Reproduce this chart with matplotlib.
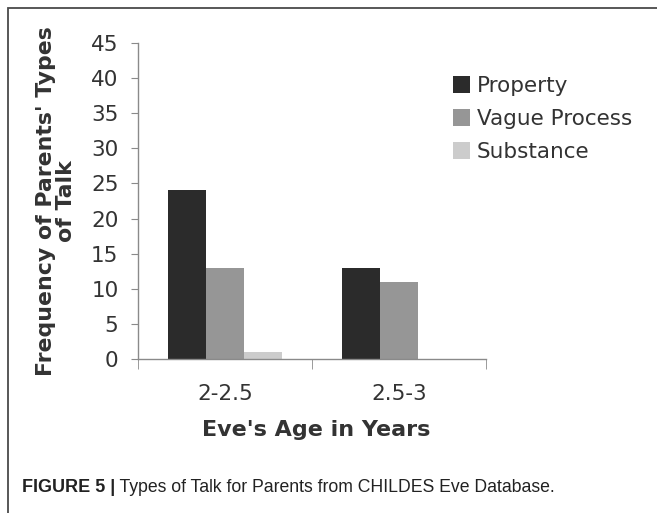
import matplotlib.pyplot as plt
import numpy as np
from matplotlib.patches import Rectangle

ages = ['2-2.5', '2.5-3']
property_talk = [24, 13]
vague_process = [13, 11]
substance = [1, 0]
series_names = ['Property', 'Vague Process', 'Substance']
colors = ['#2b2b2b', '#969696', '#cccccc']
yticks = [0, 5, 10, 15, 20, 25, 30, 35, 40, 45]

W, H = 657, 513
fig = plt.figure(figsize=(W / 100, H / 100), dpi=100)
ax = fig.add_axes([138 / W, 1 - 359 / H, 348 / W, 316 / H])

txt = '#333333'
axcol = '#8a8a8a'

x = np.arange(len(ages))
width = 0.22
for i, (vals, name, c) in enumerate(zip([property_talk, vague_process, substance], series_names, colors)):
    ax.bar(x + (i - 1) * width, vals, width, color=c, label=name, linewidth=0)

ax.set_xlim(-0.5, 1.5)
ax.set_ylim(0, 45)
ax.set_yticks(yticks)
ax.set_xticks(x)
ax.set_xticklabels(ages)
ax.set_xticks([-0.5, 0.5, 1.5], minor=True)

for s in ['top', 'right']:
    ax.spines[s].set_visible(False)
for s in ['left', 'bottom']:
    ax.spines[s].set_color(axcol)
    ax.spines[s].set_linewidth(1.0)

ax.tick_params(axis='y', which='major', direction='out', length=5, color=axcol,
               labelsize=15.5, labelcolor=txt, pad=9)
ax.tick_params(axis='x', which='major', length=0, labelsize=15.5, labelcolor=txt, pad=18)
ax.tick_params(axis='x', which='minor', direction='out', length=7, color=axcol)

fig.text(56 / W, 1 - 201 / H, "Frequency of Parents' Types\nof Talk", rotation=90,
         ha='center', va='center', multialignment='center', fontsize=15.8,
         fontweight='bold', color=txt, linespacing=1.05)
fig.text(316 / W, 1 - 430 / H, "Eve's Age in Years", ha='center', va='center',
         fontsize=16, fontweight='bold', color=txt)

leg = ax.legend(loc='upper left', bbox_to_anchor=(453 / W, 1 - 76 / H),
                bbox_transform=fig.transFigure, frameon=False, fontsize=15.5,
                handlelength=0.79, handleheight=0.79, handletextpad=0.33,
                labelspacing=0.6, borderpad=0, borderaxespad=0)
for t in leg.get_texts():
    t.set_color(txt)

# caption
cap_font = ['Liberation Sans Narrow', 'Liberation Sans', 'DejaVu Sans']
t1 = fig.text(22 / W, 1 - 496 / H, 'FIGURE 5 |', fontsize=13, fontweight='bold',
              family=cap_font, color='#222222', va='bottom')
ax.annotate(' Types of Talk for Parents from CHILDES Eve Database.', xy=(1, 0),
            xycoords=t1, va='bottom', ha='left', fontsize=12.7, family=cap_font,
            color='#222222', annotation_clip=False)

# outer frame
fig.patches.append(Rectangle((7.5 / W, -0.1), 1.2, 1.1 - 8 / H, transform=fig.transFigure,
                             fill=False, edgecolor='#4a4a4a', linewidth=1.3))

fig.savefig('out.png', dpi=100)
